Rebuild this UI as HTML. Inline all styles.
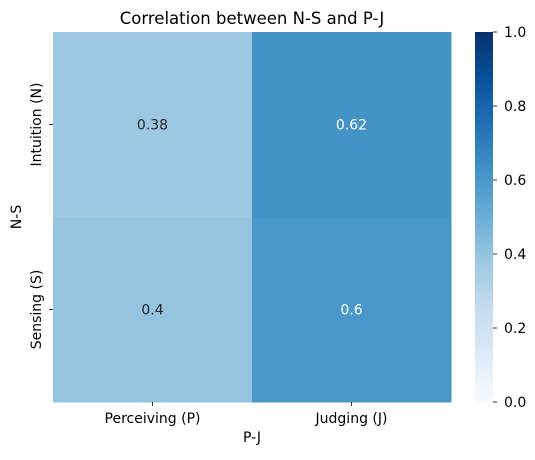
<!DOCTYPE html>
<html><head><meta charset="utf-8"><style>
body{margin:0;background:#fff;width:535px;height:455px;overflow:hidden}
text{font-family:"DejaVu Sans","Liberation Sans",sans-serif}
</style></head><body>
<svg id="chart" width="535" height="455" viewBox="0 0 535 455">
<defs><linearGradient id="cb" x1="0" y1="1" x2="0" y2="0">
<stop offset="0" stop-color="#f7fbff"/><stop offset="0.125" stop-color="#deebf7"/><stop offset="0.25" stop-color="#c6dbef"/><stop offset="0.375" stop-color="#9ecae1"/><stop offset="0.5" stop-color="#6baed6"/><stop offset="0.625" stop-color="#4292c6"/><stop offset="0.75" stop-color="#2171b5"/><stop offset="0.875" stop-color="#08519c"/><stop offset="1" stop-color="#08306b"/>
</linearGradient></defs>
<text x="252" y="24" text-anchor="middle" font-size="16.5" fill="#000">Correlation between N-S and P-J</text>
<g id="cells"></g>
<rect x="475" y="32" width="18" height="370" fill="url(#cb)"/>
<g id="cbticks"></g>
<text x="252" y="442" text-anchor="middle" font-size="14">P-J</text>
<text x="0" y="0" transform="translate(21,217) rotate(-90)" text-anchor="middle" font-size="14">N-S</text>
</svg>
<script>
const xCats=["Perceiving (P)","Judging (J)"];
const yCats=["Intuition (N)","Sensing (S)"];
const row0=[0.38,0.62];
const row1=[0.4,0.6];
const cbTicks=[0,0.2,0.4,0.6,0.8,1.0];
const vals=[row0,row1];
const stops=["#f7fbff","#deebf7","#c6dbef","#9ecae1","#6baed6","#4292c6","#2171b5","#08519c","#08306b"];
function hex(h){return [1,3,5].map(i=>parseInt(h.substr(i,2),16));}
function cmap(v){v=Math.max(0,Math.min(1,v));const p=v*8,i=Math.min(7,Math.floor(p)),f=p-i;const a=hex(stops[i]),b=hex(stops[i+1]);return "rgb("+a.map((c,k)=>Math.round(c+(b[k]-c)*f)).join(",")+")";}
const X0=53,X1=451,Y0=32,Y1=402;
const cw=(X1-X0)/xCats.length,ch=(Y1-Y0)/yCats.length;
const xs=i=>X0+i*cw, ys=j=>Y0+j*ch, cy=v=>Y1-(v)*(Y1-Y0);
const NS="http://www.w3.org/2000/svg";
const svg=document.getElementById('chart'),g=document.getElementById('cells'),cb=document.getElementById('cbticks');
function mk(t,a,p){const e=document.createElementNS(NS,t);for(const k in a)e.setAttribute(k,a[k]);(p||svg).appendChild(e);return e;}
vals.forEach((row,j)=>row.forEach((v,i)=>{
 const r=mk('rect',{x:xs(i),y:ys(j),width:cw+0.5,height:ch+0.5,fill:cmap(v)},g);
 
 
 const t=mk('text',{x:xs(i)+cw/2,y:ys(j)+ch/2+5,'text-anchor':'middle','font-size':'14',fill:v>0.5?'#fff':'#262626'},g);
 t.textContent=String(v);
 
 
}));
xCats.forEach((c,i)=>{
 const x=xs(i)+cw/2;
 mk('line',{x1:x,x2:x,y1:Y1,y2:Y1+4,stroke:'#000','stroke-width':0.8});
 const t=mk('text',{x:x,y:Y1+21,'text-anchor':'middle','font-size':'14'});
 t.textContent=c;
 
 
});
yCats.forEach((c,j)=>{
 const y=ys(j)+ch/2;
 mk('line',{x1:X0-4,x2:X0,y1:y,y2:y,stroke:'#000','stroke-width':0.8});
 const t=mk('text',{x:0,y:0,transform:`translate(${X0-12},${y}) rotate(-90)`,'text-anchor':'middle','font-size':'14'});
 t.textContent=c;
 
 
});
cbTicks.forEach(v=>{
 const y=cy(v);
 mk('line',{x1:493,x2:497,y1:y,y2:y,stroke:'#000','stroke-width':0.8},cb);
 const t=mk('text',{x:504,y:y+5,'font-size':'14'},cb);
 t.textContent=v.toFixed(1);
 
 
});
</script>
</body></html>
